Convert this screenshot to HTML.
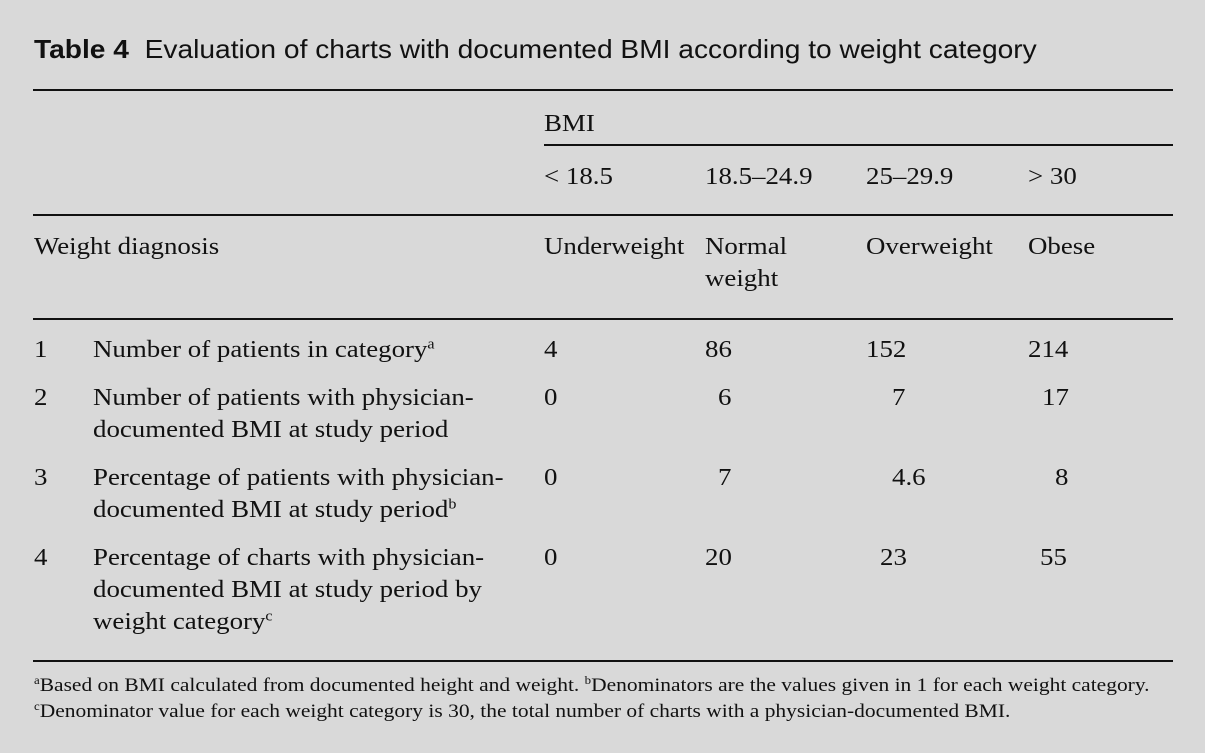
<!DOCTYPE html>
<html><head><meta charset="utf-8"><style>
body{margin:0;width:1205px;height:753px;background:#d9d9d9;position:relative;overflow:hidden;font-family:"Liberation Serif",serif;color:#111;}
.t{position:absolute;font-size:24px;line-height:32px;white-space:nowrap;transform:scaleX(1.12);transform-origin:0 0;margin-top:1px;}
.l{position:absolute;background:#111;height:2px;}
.f{position:absolute;font-size:19px;line-height:26px;white-space:nowrap;transform:scaleX(1.13);transform-origin:0 0;margin-top:1px;}
sup{font-size:0.6em;vertical-align:0.6em;line-height:0;}
</style></head><body>
<div style="position:absolute;left:34px;top:32px;font-family:'Liberation Sans',sans-serif;font-size:26px;line-height:34px;white-space:nowrap;transform:scaleX(1.083);transform-origin:0 0"><b>Table 4</b>&nbsp; Evaluation of charts with documented BMI according to weight category</div>
<div class="l" style="left:33px;width:1140px;top:89px"></div>
<div class="l" style="left:544px;width:629px;top:144px;height:1.5px"></div>
<div class="l" style="left:33px;width:1140px;top:214px"></div>
<div class="l" style="left:33px;width:1140px;top:318px"></div>
<div class="l" style="left:33px;width:1140px;top:660px"></div>

<div class="t" style="left:544px;top:107px">BMI</div>
<div class="t" style="left:544px;top:160px">&lt; 18.5</div>
<div class="t" style="left:705px;top:160px">18.5–24.9</div>
<div class="t" style="left:866px;top:160px">25–29.9</div>
<div class="t" style="left:1028px;top:160px">&gt; 30</div>

<div class="t" style="left:34px;top:230px">Weight diagnosis</div>
<div class="t" style="left:544px;top:230px">Underweight</div>
<div class="t" style="left:705px;top:230px">Normal<br>weight</div>
<div class="t" style="left:866px;top:230px">Overweight</div>
<div class="t" style="left:1028px;top:230px">Obese</div>

<div class="t" style="left:34px;top:333px">1</div>
<div class="t" style="left:93px;top:333px">Number of patients in category<sup>a</sup></div>
<div class="t" style="left:544px;top:333px">4</div>
<div class="t" style="left:705px;top:333px">86</div>
<div class="t" style="left:866px;top:333px">152</div>
<div class="t" style="left:1028px;top:333px">214</div>

<div class="t" style="left:34px;top:381px">2</div>
<div class="t" style="left:93px;top:381px">Number of patients with physician-<br>documented BMI at study period</div>
<div class="t" style="left:544px;top:381px">0</div>
<div class="t" style="left:718px;top:381px">6</div>
<div class="t" style="left:892px;top:381px">7</div>
<div class="t" style="left:1042px;top:381px">17</div>

<div class="t" style="left:34px;top:461px">3</div>
<div class="t" style="left:93px;top:461px">Percentage of patients with physician-<br>documented BMI at study period<sup>b</sup></div>
<div class="t" style="left:544px;top:461px">0</div>
<div class="t" style="left:718px;top:461px">7</div>
<div class="t" style="left:892px;top:461px">4.6</div>
<div class="t" style="left:1055px;top:461px">8</div>

<div class="t" style="left:34px;top:541px">4</div>
<div class="t" style="left:93px;top:541px">Percentage of charts with physician-<br>documented BMI at study period by<br>weight category<sup>c</sup></div>
<div class="t" style="left:544px;top:541px">0</div>
<div class="t" style="left:705px;top:541px">20</div>
<div class="t" style="left:880px;top:541px">23</div>
<div class="t" style="left:1040px;top:541px">55</div>

<div class="f" style="left:34px;top:672px"><sup>a</sup>Based on BMI calculated from documented height and weight. <sup>b</sup>Denominators are the values given in 1 for each weight category.</div>
<div class="f" style="left:34px;top:698px"><sup>c</sup>Denominator value for each weight category is 30, the total number of charts with a physician-documented BMI.</div>
</body></html>
